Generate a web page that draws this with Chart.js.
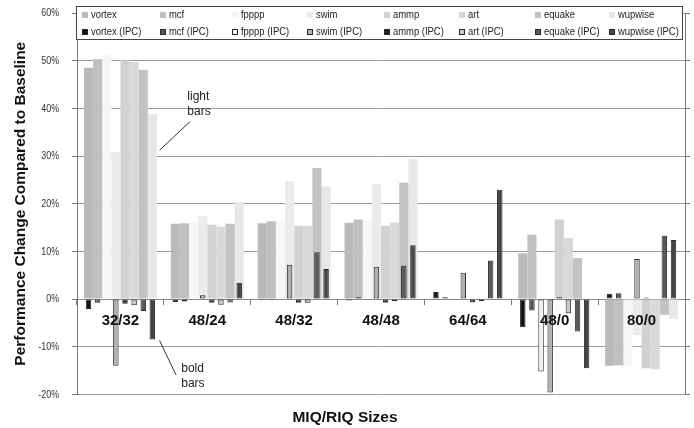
<!DOCTYPE html>
<html>
<head>
<meta charset="utf-8">
<script src="https://cdn.jsdelivr.net/npm/chart.js@4.4.1/dist/chart.umd.min.js"></script>
<style>
  html, body { margin: 0; padding: 0; background: #fff; }
  #wrap { width: 694px; height: 428px; position: relative; }
</style>
</head>
<body>
<div id="wrap"><canvas id="perfChart"></canvas></div>
<script>
const categories = ['32/32', '48/24', '48/32', '48/48', '64/64', '48/0', '80/0'];
const benchmarks = ['vortex', 'mcf', 'fpppp', 'swim', 'ammp', 'art', 'equake', 'wupwise'];
const yTicks = [-20, -10, 0, 10, 20, 30, 40, 50, 60];

// light bars - performance change (%)
const vortex  = [48.5, 15.8, 15.9, 16.0, 0, 9.6, -14.0];
const mcf     = [50.3, 15.9, 16.3, 16.7, 0, 13.5, -13.9];
const fpppp   = [51.3, 16.3, 16.5, 16.5, 0, 0, -14.3];
const swim    = [30.8, 17.4, 24.7, 24.1, 0, 0, -7.6];
const ammp    = [50.1, 15.6, 15.4, 15.4, 0, 16.7, -14.5];
const art     = [49.7, 15.2, 15.4, 16.0, 0, 12.8, -14.7];
const equake  = [48.1, 15.8, 27.5, 24.4, 0, 8.6, -3.3];
const wupwise = [38.8, 20.3, 23.6, 29.4, 0, 0, -4.2];

// bold bars - IPC change (%)
const vortexIPC  = [-2.1, -0.6, -0.2, -0.3, 1.5, -5.9, 1.1];
const mcfIPC     = [-0.8, -0.5, -0.2, 0.4, 0.4, -2.4, 1.2];
const fppppIPC   = [-0.1, 0, 0, 0, 0, -15.2, 0];
const swimIPC    = [-14.0, 0.8, 7.2, 6.8, 5.5, -19.6, 8.4];
const ammpIPC    = [-1.0, -0.8, -0.8, -0.8, -0.7, 0.4, 0.3];
const artIPC     = [-1.3, -1.2, -0.8, -0.4, -0.4, -3.0, 0.1];
const equakeIPC  = [-2.5, -0.7, 9.8, 7.0, 8.1, -6.8, 13.3];
const wupwiseIPC = [-8.5, 3.4, 6.3, 11.3, 22.9, -14.5, 12.4];

const lightColors = ['#bababa', '#c0c0c0', '#f6f6f6', '#ebebeb', '#d2d2d2', '#d9d9d9', '#c3c3c3', '#e7e7e7'];
const boldColors  = ['#111111', '#555555', '#f4f4f4', '#b0b0b0', '#222222', '#c8c8c8', '#5a5a5a', '#444444'];

Chart.defaults.font.family = '"Liberation Sans", Arial, sans-serif';

// small text in the picture is a narrow face: squeeze Liberation Sans
function narrowText(ctx, text, x, y, size, squeeze, align) {
  ctx.save();
  ctx.font = size + 'px "Liberation Sans", Arial';
  ctx.textAlign = align;
  ctx.textBaseline = 'middle';
  ctx.translate(x, y);
  ctx.scale(squeeze, 1);
  ctx.fillText(text, 0, 0);
  ctx.restore();
}

const lightSets = [vortex, mcf, fpppp, swim, ammp, art, equake, wupwise];
const boldSets = [vortexIPC, mcfIPC, fppppIPC, swimIPC, ammpIPC, artIPC, equakeIPC, wupwiseIPC];

// light and IPC bar of one benchmark share a slot (same stack name)
const datasets = [];
benchmarks.forEach((name, i) => {
  datasets.push({
    label: name,
    data: lightSets[i],
    stack: name,
    backgroundColor: lightColors[i],
    borderWidth: 0,
    categoryPercentage: 0.84,
    barPercentage: 1.0,
    order: 2
  });
});
benchmarks.forEach((name, i) => {
  datasets.push({
    label: name + ' (IPC)',
    data: boldSets[i],
    stack: name,
    backgroundColor: boldColors[i],
    borderColor: '#2a2a2a',
    borderWidth: 1,
    borderSkipped: false,
    categoryPercentage: 0.84,
    barPercentage: 0.6,
    order: 1
  });
});

// y tick labels, legend box and the two callouts
const overlay = {
  id: 'overlay',
  afterDraw(chart) {
    const ctx = chart.ctx;
    const xs = chart.scales.x, ys = chart.scales.y;
    const catW = xs.width / categories.length;
    const px = (cat, frac) => xs.getPixelForValue(cat) + frac * catW;

    ctx.save();
    ctx.fillStyle = '#333';
    ys.ticks.forEach(t => {
      narrowText(ctx, t.value + '%', ys.right - 18, ys.getPixelForValue(t.value), 11.5, 0.77, 'right');
    });

    ctx.strokeStyle = '#333';
    ctx.lineWidth = 1;
    ctx.beginPath();
    ctx.moveTo(px(0, 0.45), ys.getPixelForValue(31.2));
    ctx.lineTo(px(0, 0.80), ys.getPixelForValue(37.2));
    ctx.moveTo(px(0, 0.45), ys.getPixelForValue(-8.7));
    ctx.lineTo(px(0, 0.64), ys.getPixelForValue(-15.9));
    ctx.stroke();
    ctx.fillStyle = '#222';
    ctx.font = '12px "Liberation Sans", Arial';
    ctx.textBaseline = 'middle';
    ctx.textAlign = 'left';
    ctx.fillText('light', px(0, 0.77), ys.getPixelForValue(42.5));
    ctx.fillText('bars', px(0, 0.77), ys.getPixelForValue(39.3));
    ctx.fillText('bold', px(0, 0.70), ys.getPixelForValue(-14.6));
    ctx.fillText('bars', px(0, 0.70), ys.getPixelForValue(-17.8));

    // legend
    const area = chart.chartArea;
    const boxL = area.left - 0.5, boxR = area.right - 2.5, boxT = 6.5, boxB = 39.5;
    ctx.fillStyle = '#fff';
    ctx.fillRect(boxL, boxT, boxR - boxL, boxB - boxT);
    ctx.strokeStyle = '#444';
    ctx.strokeRect(boxL, boxT, boxR - boxL, boxB - boxT);
    const colX = [82, 160, 232, 307, 384, 459, 535, 609];
    const rowY = [15, 32];
    chart.data.datasets.forEach((ds, i) => {
      const row = i < 8 ? 0 : 1;
      const col = i % 8;
      const sx = colX[col], sy = rowY[row] - 3;
      ctx.fillStyle = ds.backgroundColor;
      ctx.fillRect(sx, sy, 6, 6);
      if (row === 1) {
        ctx.strokeStyle = '#2a2a2a';
        ctx.strokeRect(sx + 0.5, sy + 0.5, 5, 5);
      }
      ctx.fillStyle = '#222';
      narrowText(ctx, ds.label, sx + 9, rowY[row], 11.5, 0.82, 'left');
    });
    ctx.restore();
  }
};

new Chart(document.getElementById('perfChart'), {
  type: 'bar',
  data: { labels: categories, datasets: datasets },
  options: {
    responsive: true,
    maintainAspectRatio: false,
    animation: false,
    layout: { padding: { top: 13, right: 4, bottom: 1, left: 0 } },
    plugins: {
      legend: { display: false },
      tooltip: { enabled: false },
      title: {
        display: true,
        position: 'bottom',
        text: 'MIQ/RIQ Sizes',
        color: '#111',
        font: { size: 15.5, weight: 'bold' },
        padding: { top: 14, bottom: 0 }
      }
    },
    scales: {
      x: {
        type: 'category',
        position: { y: 0 },
        offset: true,
        grid: { offset: true, drawOnChartArea: false, tickLength: 5, tickColor: '#777' },
        border: { color: '#8a8a8a' },
        ticks: { z: 1, color: '#111', font: { size: 15, weight: 'bold' }, padding: 8, maxRotation: 0, autoSkip: false }
      },
      y: {
        position: 'left',
        stacked: false,
        min: -20,
        max: 60,
        afterBuildTicks: s => { s.ticks = yTicks.map(v => ({ value: v })); },
        afterFit: s => { s.width = 77; },
        ticks: { display: false },
        grid: { color: '#9c9c9c', tickColor: '#777', tickLength: 5 },
        border: { color: '#777' },
        title: {
          display: true,
          text: 'Performance Change Compared to Baseline',
          color: '#111',
          font: { size: 15.5, weight: 'bold' },
          padding: { top: 11, bottom: 0 }
        }
      },
      yR: {
        position: 'right',
        min: -20,
        max: 60,
        afterBuildTicks: s => { s.ticks = yTicks.map(v => ({ value: v })); },
        afterFit: s => { s.width = 5; },
        ticks: { display: false },
        grid: { drawOnChartArea: false, tickLength: 5, tickColor: '#777' },
        border: { color: '#777' }
      }
    }
  },
  plugins: [overlay]
});
</script>
</body>
</html>
